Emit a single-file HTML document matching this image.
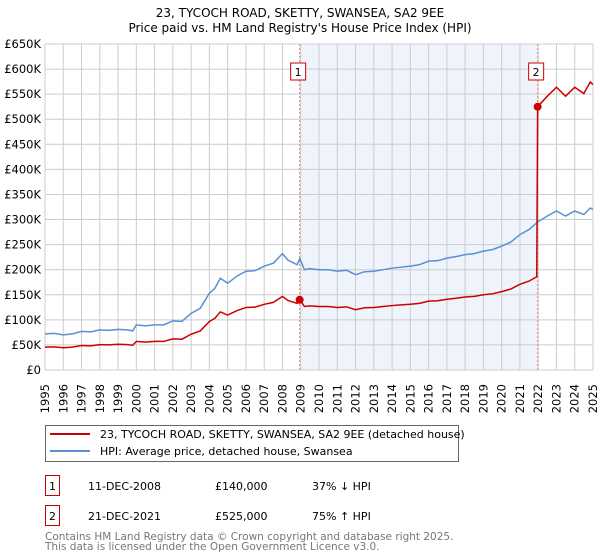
<!DOCTYPE html>
<html><head><meta charset="utf-8"><style>
body{margin:0;background:#fff;font-family:"DejaVu Sans","Liberation Sans",sans-serif;}
#wrap{position:relative;width:600px;height:560px;overflow:hidden;}
svg{position:absolute;left:0;top:0;}
svg text{font-family:"DejaVu Sans","Liberation Sans",sans-serif;}
.xl{position:absolute;width:14px;height:32px;line-height:14px;font-size:11.5px;writing-mode:vertical-rl;writing-mode:sideways-lr;white-space:nowrap;color:#000;text-align:center;}
</style></head><body>
<div id="wrap">
<svg id="c" width="600" height="560">
<text x="300" y="17" text-anchor="middle" font-size="12">23, TYCOCH ROAD, SKETTY, SWANSEA, SA2 9EE</text>
<text x="300" y="32" text-anchor="middle" font-size="12">Price paid vs. HM Land Registry's House Price Index (HPI)</text>
<g id="grid"></g><g id="series"></g><g id="axes"></g>
<rect x="45.5" y="425.5" width="413" height="36" fill="#fff" stroke="#666"/>
<line x1="50" y1="434" x2="90" y2="434" stroke="#cc0000" stroke-width="2"/>
<text x="100" y="438" font-size="11">23, TYCOCH ROAD, SKETTY, SWANSEA, SA2 9EE (detached house)</text>
<line x1="50" y1="451" x2="90" y2="451" stroke="#5b8fd4" stroke-width="2"/>
<text x="100" y="455" font-size="11">HPI: Average price, detached house, Swansea</text>
<g font-size="11">
<rect x="45.5" y="475.5" width="14" height="20" fill="#fff" stroke="#cc0000"/>
<text x="52.5" y="490" text-anchor="middle">1</text>
<text x="88" y="490">11-DEC-2008</text>
<text x="215" y="490">£140,000</text>
<text x="312" y="490">37% ↓ HPI</text>
<rect x="45.5" y="505.5" width="14" height="20" fill="#fff" stroke="#cc0000"/>
<text x="52.5" y="520" text-anchor="middle">2</text>
<text x="88" y="520">21-DEC-2021</text>
<text x="215" y="520">£525,000</text>
<text x="312" y="520">75% ↑ HPI</text>
</g>
<text x="45" y="540" font-size="10.5" fill="#777">Contains HM Land Registry data © Crown copyright and database right 2025.</text>
<text x="45" y="550" font-size="10.5" fill="#777">This data is licensed under the Open Government Licence v3.0.</text>
</svg>
</div>
<script>
const hpiDates=[1995,1995.5,1996,1996.5,1997,1997.5,1998,1998.5,1999,1999.5,1999.8,2000,2000.5,2001,2001.5,2002,2002.5,2003,2003.5,2004,2004.3,2004.6,2005,2005.5,2006,2006.5,2007,2007.5,2008,2008.3,2008.8,2008.95,2009.2,2009.5,2010,2010.5,2011,2011.5,2012,2012.5,2013,2013.5,2014,2014.5,2015,2015.5,2016,2016.5,2017,2017.5,2018,2018.5,2019,2019.5,2020,2020.5,2021,2021.5,2021.96,2022.5,2023,2023.5,2024,2024.5,2024.85,2025];
const hpiValues=[72,73,70,72,77,76,80,79,81,80,78,90,88,90,90,98,97,113,123,153,163,183,173,187,197,198,207,213,232,219,210,222,200,202,200,200,197,199,190,196,197,200,203,205,207,210,217,218,223,226,230,232,237,240,247,255,270,280,295,307,317,307,317,310,323,320];
const saleDates=[2008.94,2021.97];
const salePrices=[140,525];
const yTicks=[0,50,100,150,200,250,300,350,400,450,500,550,600,650];
const yTickLabels=["£0","£50K","£100K","£150K","£200K","£250K","£300K","£350K","£400K","£450K","£500K","£550K","£600K","£650K"];
const xYears=[1995,1996,1997,1998,1999,2000,2001,2002,2003,2004,2005,2006,2007,2008,2009,2010,2011,2012,2013,2014,2015,2016,2017,2018,2019,2020,2021,2022,2023,2024,2025];

const X0=45,X1=593,Y0=370,Y1=44;
const xs=t=>X0+(t-1995)/30*(X1-X0);
const ys=v=>Y0-v/650*(Y0-Y1);
const NS="http://www.w3.org/2000/svg";
function mk(tag,attrs,parent){const e=document.createElementNS(NS,tag);for(const k in attrs)e.setAttribute(k,attrs[k]);parent.appendChild(e);return e;}
const grid=document.getElementById('grid'),ser=document.getElementById('series'),ax=document.getElementById('axes');
const wrap=document.getElementById('wrap');
function hpiAt(t){for(let i=1;i<hpiDates.length;i++){if(t<=hpiDates[i]){const f=(t-hpiDates[i-1])/(hpiDates[i]-hpiDates[i-1]);return hpiValues[i-1]+f*(hpiValues[i]-hpiValues[i-1]);}}return hpiValues[hpiValues.length-1];}

let sh=mk('rect',{x:xs(saleDates[0]),y:Y1,width:xs(saleDates[1])-xs(saleDates[0]),height:Y0-Y1,fill:'#eef3fc'},grid);


yTicks.forEach((v,i)=>{
 let l=mk('line',{x1:X0,x2:X1,y1:ys(v),y2:ys(v),stroke:'#ccc'},grid);
 
 
 let t=mk('text',{x:X0-4,y:ys(v)+4,'text-anchor':'end','font-size':'11.5'},ax);t.textContent=yTickLabels[i];
 
 
});
xYears.forEach(y=>{
 let l=mk('line',{x1:xs(y),x2:xs(y),y1:Y1,y2:Y0,stroke:'#ccc'},grid);
 
 
 const d=document.createElement('div');
 d.className='xl';
 d.style.left=(xs(y)-7)+'px';
 d.style.top='383px';
 d.textContent=y;
 
 
 wrap.appendChild(d);
});
let hp=mk('polyline',{points:hpiDates.map((d,i)=>xs(d)+','+ys(hpiValues[i])).join(' '),fill:'none',stroke:'#5b8fd4','stroke-width':1.5},ser);


const r0=salePrices[0]/hpiAt(saleDates[0]),r1=salePrices[1]/hpiAt(saleDates[1]);
let pts=[];
hpiDates.forEach((d,i)=>{ if(d<saleDates[1]) pts.push(xs(d)+','+ys(hpiValues[i]*r0)); });
pts.push(xs(saleDates[1]-0.05)+','+ys(hpiAt(saleDates[1]-0.05)*r0));
pts.push(xs(saleDates[1])+','+ys(salePrices[1]));
hpiDates.forEach((d,i)=>{ if(d>saleDates[1]) pts.push(xs(d)+','+ys(hpiValues[i]*r1)); });
let pl=mk('polyline',{points:pts.join(' '),fill:'none',stroke:'#cc0000','stroke-width':1.5},ser);


saleDates.forEach((d,i)=>{
 let v=mk('line',{x1:xs(d),x2:xs(d),y1:Y1,y2:Y0,stroke:'#f08080','stroke-dasharray':'2,2'},grid);
 
 
 let c=mk('circle',{cx:xs(d),cy:ys(salePrices[i]),r:4,fill:'#cc0000'},ser);
 
 
 let b=mk('rect',{x:xs(d)-9,y:63,width:15,height:17,fill:'#fff',stroke:'#cc0000'},ser);
 
 
 let t=mk('text',{x:xs(d)-1.5,y:76,'text-anchor':'middle','font-size':'11'},ser);t.textContent=String(i+1);
 
 
});
</script>
</body></html>
